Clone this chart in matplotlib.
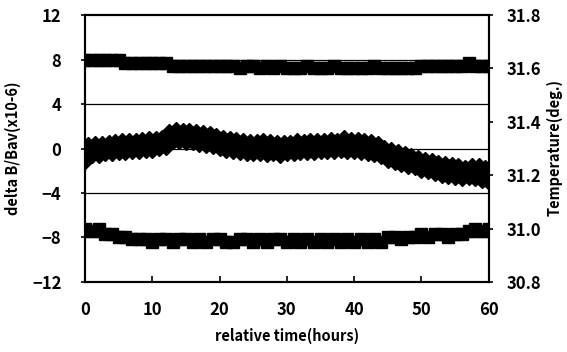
import matplotlib
matplotlib.use("Agg")
import matplotlib.pyplot as plt
import numpy as np

plt.rcParams['font.family'] = ['Noto Sans CJK JP', 'DejaVu Sans']

# delta B / Bav (x10-6), sampled every 0.5 h
time_b = [i * 0.5 for i in range(121)]
delta_b = [
    -1.0, 0.2, -0.5, 0.3, -0.5, 0.3, -0.3, 0.4, -0.3, 0.5,
    -0.2, 0.6, -0.2, 0.6, -0.1, 0.6, -0.1, 0.7, 0.0, 0.8,
    0.0, 0.8, 0.1, 0.9, 0.2, 1.4, 0.8, 1.6, 0.8, 1.5,
    0.7, 1.5, 0.7, 1.4, 0.5, 1.3, 0.4, 1.2, 0.3, 1.0,
    0.1, 0.9, 0.0, 0.8, -0.1, 0.7, -0.2, 0.6, -0.3, 0.5,
    -0.3, 0.5, -0.3, 0.6, -0.4, 0.5, -0.3, 0.4, -0.5, 0.4,
    -0.3, 0.4, -0.3, 0.6, -0.2, 0.5, -0.2, 0.6, -0.2, 0.6,
    -0.1, 0.6, -0.1, 0.7, -0.1, 0.6, 0.0, 0.9, -0.1, 0.7,
    -0.1, 0.7, -0.2, 0.6, -0.3, 0.5, -0.4, 0.3, -0.6, 0.0,
    -0.9, -0.2, -1.1, -0.4, -1.3, -0.6, -1.5, -0.8, -1.6, -0.9,
    -1.8, -1.1, -1.9, -1.2, -2.1, -1.4, -2.3, -1.5, -2.4, -1.6,
    -2.5, -1.7, -2.6, -1.8, -2.5, -1.7, -2.6, -1.7, -2.7, -1.8,
    -2.9,
]

# temperatures (deg.), sampled every 1 h
time_t = list(range(61))
temp_upper = (
    [31.63] * 6 + [31.62] * 7 + [31.61] * 9 +
    [31.61, 31.60, 31.61, 31.61, 31.60, 31.61, 31.60, 31.61, 31.60] +
    [31.60, 31.60, 31.61, 31.60, 31.60, 31.60, 31.61, 31.60, 31.60, 31.60,
     31.60, 31.60, 31.61, 31.60, 31.60, 31.60, 31.60, 31.60, 31.60] +
    [31.61, 31.61, 31.61, 31.61, 31.61, 31.61, 31.61, 31.62, 31.61, 31.61, 31.61]
)
temp_lower = [
    31.00, 30.99, 31.00, 30.98, 30.98, 30.97, 30.97, 30.96, 30.96, 30.96,
    30.95, 30.96, 30.96, 30.95, 30.96, 30.96, 30.95, 30.96, 30.95, 30.96,
    30.96, 30.95, 30.95, 30.96, 30.96, 30.95, 30.96, 30.95, 30.96, 30.96,
    30.95, 30.96, 30.95, 30.96, 30.95, 30.96, 30.95, 30.96, 30.95, 30.96,
    30.95, 30.96, 30.95, 30.96, 30.95, 30.97, 30.97, 30.96, 30.97, 30.97,
    30.98, 30.97, 30.98, 30.98, 30.97, 30.98, 30.98, 30.99, 31.00, 30.99,
    31.00,
]

left_ticks = [-12, -8, -4, 0, 4, 8, 12]
right_ticks = [30.8, 31.0, 31.2, 31.4, 31.6, 31.8]
x_ticks = [0, 10, 20, 30, 40, 50, 60]

fig = plt.figure(figsize=(5.67, 3.52), dpi=100)
ax = fig.add_axes([0.150, 0.199, 0.712, 0.758])
ax2 = ax.twinx()

for y in left_ticks[1:-1]:
    ax.axhline(y, color='black', lw=0.9, zorder=1)

ax.plot(time_b, delta_b, linestyle='none', marker='D', markersize=9,
        color='black', zorder=3)
ax2.plot(time_t, temp_upper, linestyle='none', marker='s', markersize=8.5,
         color='black', zorder=3)
ax2.plot(time_t, temp_lower, linestyle='none', marker='s', markersize=9,
         color='black', zorder=3)

ax.set_xlim(0, 60)
ax.set_ylim(-12, 12)
ax2.set_ylim(30.8, 31.8)
ax.set_xticks(x_ticks)
ax.set_yticks(left_ticks)
ax2.set_yticks(right_ticks)
ax2.set_yticklabels([f"{v:.1f}" for v in right_ticks])
ax.set_yticklabels([str(v).replace('-', '\u2212') for v in left_ticks])

for s in ax.spines.values():
    s.set_linewidth(1.5)
for s in ax2.spines.values():
    s.set_linewidth(1.5)

ax.tick_params(axis='x', direction='in', length=4, width=1.2, pad=14,
               labelsize=12)
ax.tick_params(axis='y', direction='out', length=3, width=1.2, pad=14,
               labelsize=12)
ax2.tick_params(axis='y', direction='out', length=3, width=1.2, pad=10,
                labelsize=12)
for lab in ax.get_xticklabels() + ax.get_yticklabels() + ax2.get_yticklabels():
    lab.set_fontweight('bold')

ax.set_xlabel('relative time(hours)', fontsize=10.5, fontweight='bold', labelpad=6)
ax.set_ylabel('delta B/Bav(x10-6)', fontsize=10.5, fontweight='bold', labelpad=8)
fig.text(555 / 567, 1 - 147 / 352, 'Temperature(deg.)', rotation=90,
         ha='center', va='center', fontsize=10.5, fontweight='bold')

fig.savefig('out.png', dpi=100)
